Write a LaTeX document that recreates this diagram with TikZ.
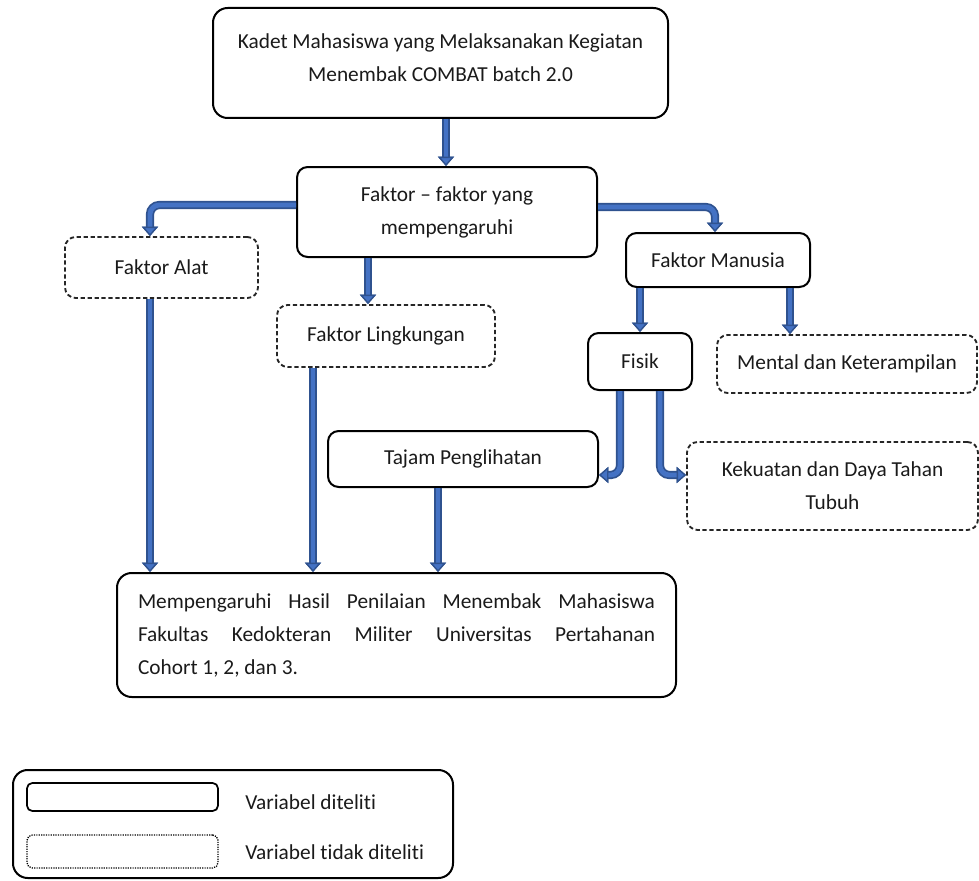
\documentclass[tikz,border=0pt]{standalone}
\usepackage{fontspec}
\setmainfont{Carlito}[Ligatures=NoCommon]
\usetikzlibrary{arrows.meta}
\definecolor{abl}{HTML}{4472C4}
\definecolor{adk}{HTML}{2F528F}
\definecolor{txt}{HTML}{1A1A1A}
\begin{document}
\begin{tikzpicture}[x=0.75pt,y=-0.75pt,
  font=\fontsize{16pt}{24.75pt}\selectfont, text=txt,
  solidbox/.style={draw=black, line width=1.5pt, rounded corners=8pt, inner sep=0pt, align=center},
  dashbox/.style={draw=black!85, line width=1.4pt, dash pattern=on 3.2pt off 2pt, rounded corners=8pt, inner sep=0pt, align=center},
  dotbox/.style={draw=black, line width=1pt, dash pattern=on 0.9pt off 0.9pt, rounded corners=4pt, inner sep=0pt},
  arr/.style={line width=3.6pt, draw=abl, rounded corners=7pt,
    preaction={draw=adk, line width=6.2pt},
    -{Triangle[width=12pt,length=7pt,fill=abl,color=adk,line width=1pt]}}
]
\useasboundingbox (0,0) rectangle (979,881);

\node[solidbox, rounded corners=11pt, minimum width=341.25pt, minimum height=82.5pt] (top) at (440.5,63)
  {\raisebox{0pt}[\height][\dimexpr\depth+7pt\relax]{\begin{tabular}{@{}c@{}}Kadet Mahasiswa yang Melaksanakan Kegiatan\\Menembak COMBAT batch 2.0\end{tabular}}};
\node[solidbox, minimum width=225pt, minimum height=67.5pt] (faktor) at (447,212)
  {Faktor -- faktor yang\\mempengaruhi};
\node[dashbox, minimum width=144.75pt, minimum height=45.75pt] (alat) at (161.5,267.5) {Faktor Alat};
\node[dashbox, minimum width=163.5pt, minimum height=46.5pt] (ling) at (386,336) {Faktor Lingkungan};
\node[solidbox, minimum width=138pt, minimum height=40.5pt] (manusia) at (718,260) {Faktor Manusia};
\node[solidbox, minimum width=78pt, minimum height=42.75pt] (fisik) at (640,361.5) {Fisik};
\node[dashbox, minimum width=195pt, minimum height=43.5pt] (mental) at (847,364) {Mental dan Keterampilan};
\node[solidbox, minimum width=202.5pt, minimum height=42pt] (tajam) at (463,459) {Tajam Penglihatan};
\node[dashbox, minimum width=218.25pt, minimum height=66pt] (kek) at (832.5,486) {Kekuatan dan Daya Tahan\\Tubuh};
\node[solidbox, rounded corners=11pt, minimum width=419.25pt, minimum height=93pt, text width=387.75pt, align=justify] (hasil) at (396.5,635)
  {Mempengaruhi Hasil Penilaian Menembak Mahasiswa\linebreak Fakultas Kedokteran Militer Universitas Pertahanan\linebreak Cohort 1, 2, dan 3.};

% legend
\node[solidbox, rounded corners=11pt, minimum width=330pt, minimum height=81pt] (legend) at (233,824) {};
\node[draw=black, line width=1.3pt, rounded corners=4pt, minimum width=143.25pt, minimum height=21pt, inner sep=0pt] (legsolid) at (122.5,797) {};
\node[dotbox, minimum width=143.25pt, minimum height=24.75pt] (legdot) at (122.5,851.5) {};
\node[anchor=west, inner sep=0pt] (legt1) at (245,802) {Variabel diteliti};
\node[anchor=west, inner sep=0pt] (legt2) at (245,852) {Variabel tidak diteliti};

% connectors
\draw[arr] (top.south -| 446,0) -- (faktor.north -| 446,0);
\draw[arr] (faktor.west |- 0,205) -| (alat.north -| 150,0);
\draw[arr] (faktor.south -| 368,0) -- (ling.north -| 368,0);
\draw[arr] (faktor.east |- 0,207) -| (manusia.north -| 715,0);
\draw[arr] (alat.south -| 150,0) -- (hasil.north -| 150,0);
\draw[arr] (ling.south -| 313,0) -- (hasil.north -| 313,0);
\draw[arr] (tajam.south -| 438,0) -- (hasil.north -| 438,0);
\draw[arr] (manusia.south -| 640,0) -- (fisik.north -| 640,0);
\draw[arr] (manusia.south -| 790,0) -- (mental.north -| 790,0);
\draw[arr] (fisik.south -| 620,0) |- (tajam.east |- 0,475);
\draw[arr] (fisik.south -| 660,0) |- (kek.west |- 0,475);
\end{tikzpicture}
\end{document}
